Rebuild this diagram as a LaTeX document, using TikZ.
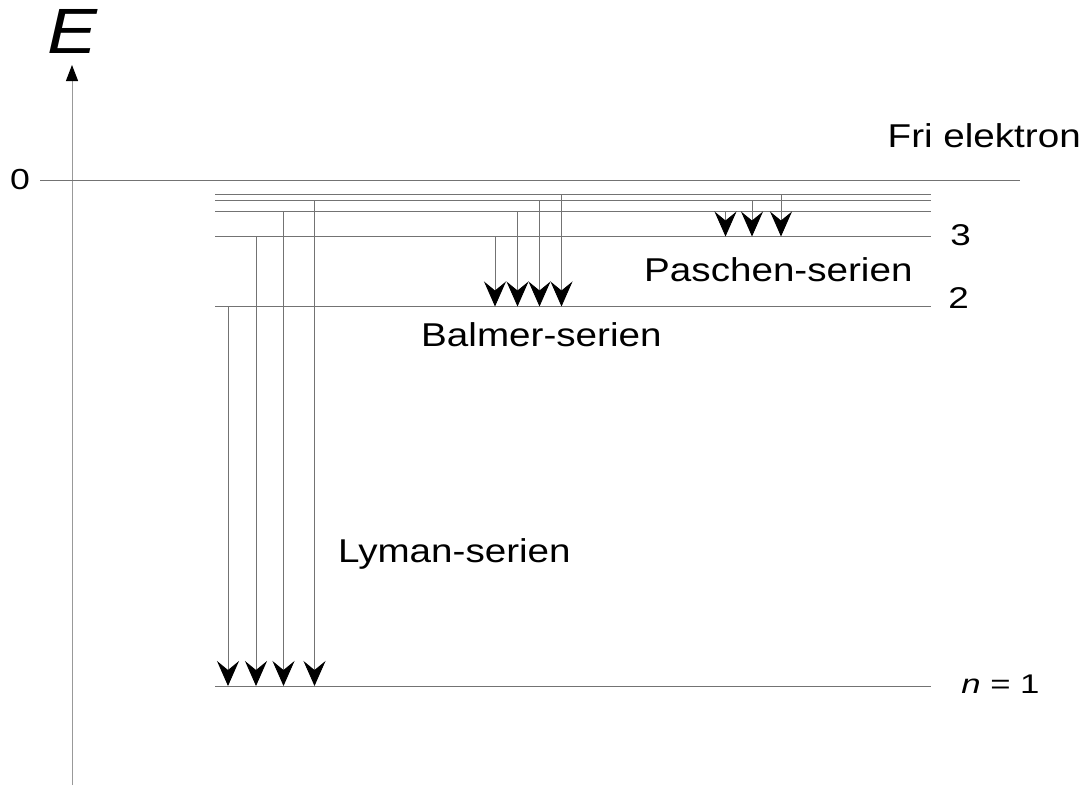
\documentclass[tikz,border=0pt]{standalone}
\usepackage{fontspec}
\setmainfont{Liberation Sans}
\usetikzlibrary{arrows.meta}

\begin{document}
\begin{tikzpicture}[x=1pt,y=-1pt,
	level/.style={draw=gray!90!black,line width=1pt},
	jump/.style={draw=gray!90!black,line width=0.9pt,
		-{Stealth[length=25pt,width=22pt,inset=9pt,color=black]}},
	lbl/.style={font=\fontsize{33}{36}\selectfont,xscale=1.17,inner sep=0pt}]
\useasboundingbox (0,0) rectangle (1086,785);
% energy levels (pixel heights)
\def\xa{215}
\def\xb{931}
\def\yzero{180.5}
\def\yone{686}
\def\ytwo{306.5}
\def\ythree{236.5}
\def\yfour{211.5}
\def\yfive{200.5}
\def\ysix{194.3}

% axis
\draw[draw=gray!80,line width=1pt,-{Triangle[length=16pt,width=12pt,color=black]}] (72,785) -- (72,65);
\node[lbl,font=\fontsize{64}{66}\selectfont\itshape,anchor=base] (E) at (72,53) {E};
\draw[level] (40,\yzero) -- (1020,\yzero);
\node[lbl,font=\fontsize{29}{32}\selectfont,xscale=1.05,anchor=base west] (zero) at (10,189) {0};
\node[lbl,anchor=base east] (free) at (1081,147) {Fri elektron};

\foreach \y in {\yone,\ytwo,\ythree,\yfour,\yfive,\ysix}
	\draw[level] (\xa,\y) -- (\xb,\y);

% transitions
\foreach \x/\s/\e in {228/\ytwo/\yone,256/\ythree/\yone,283.5/\yfour/\yone,314.5/\yfive/\yone,
	495/\ythree/\ytwo,517.5/\yfour/\ytwo,539.5/\yfive/\ytwo,561.5/\ysix/\ytwo,
	725.5/\yfour/\ythree,752/\yfive/\ythree,781/\ysix/\ythree}
	\draw[jump] (\x,\s) -- (\x,\e);

\node[lbl,font=\fontsize{30}{32}\selectfont,xscale=1.05,anchor=base west] (three) at (950,245) {3};
\node[lbl,font=\fontsize{30}{32}\selectfont,xscale=1.05,anchor=base west] (two) at (948,308) {2};
\node[lbl,font=\fontsize{27}{30}\selectfont,xscale=1.1,anchor=base west] (one) at (961,693) {\textit{n} = 1};

\node[lbl,anchor=base west] (paschen) at (644,281) {Paschen-serien};
\node[lbl,anchor=base west] (balmer) at (421,346) {Balmer-serien};
\node[lbl,anchor=base west] (lyman) at (338,562) {Lyman-serien};
\end{tikzpicture}
\end{document}
